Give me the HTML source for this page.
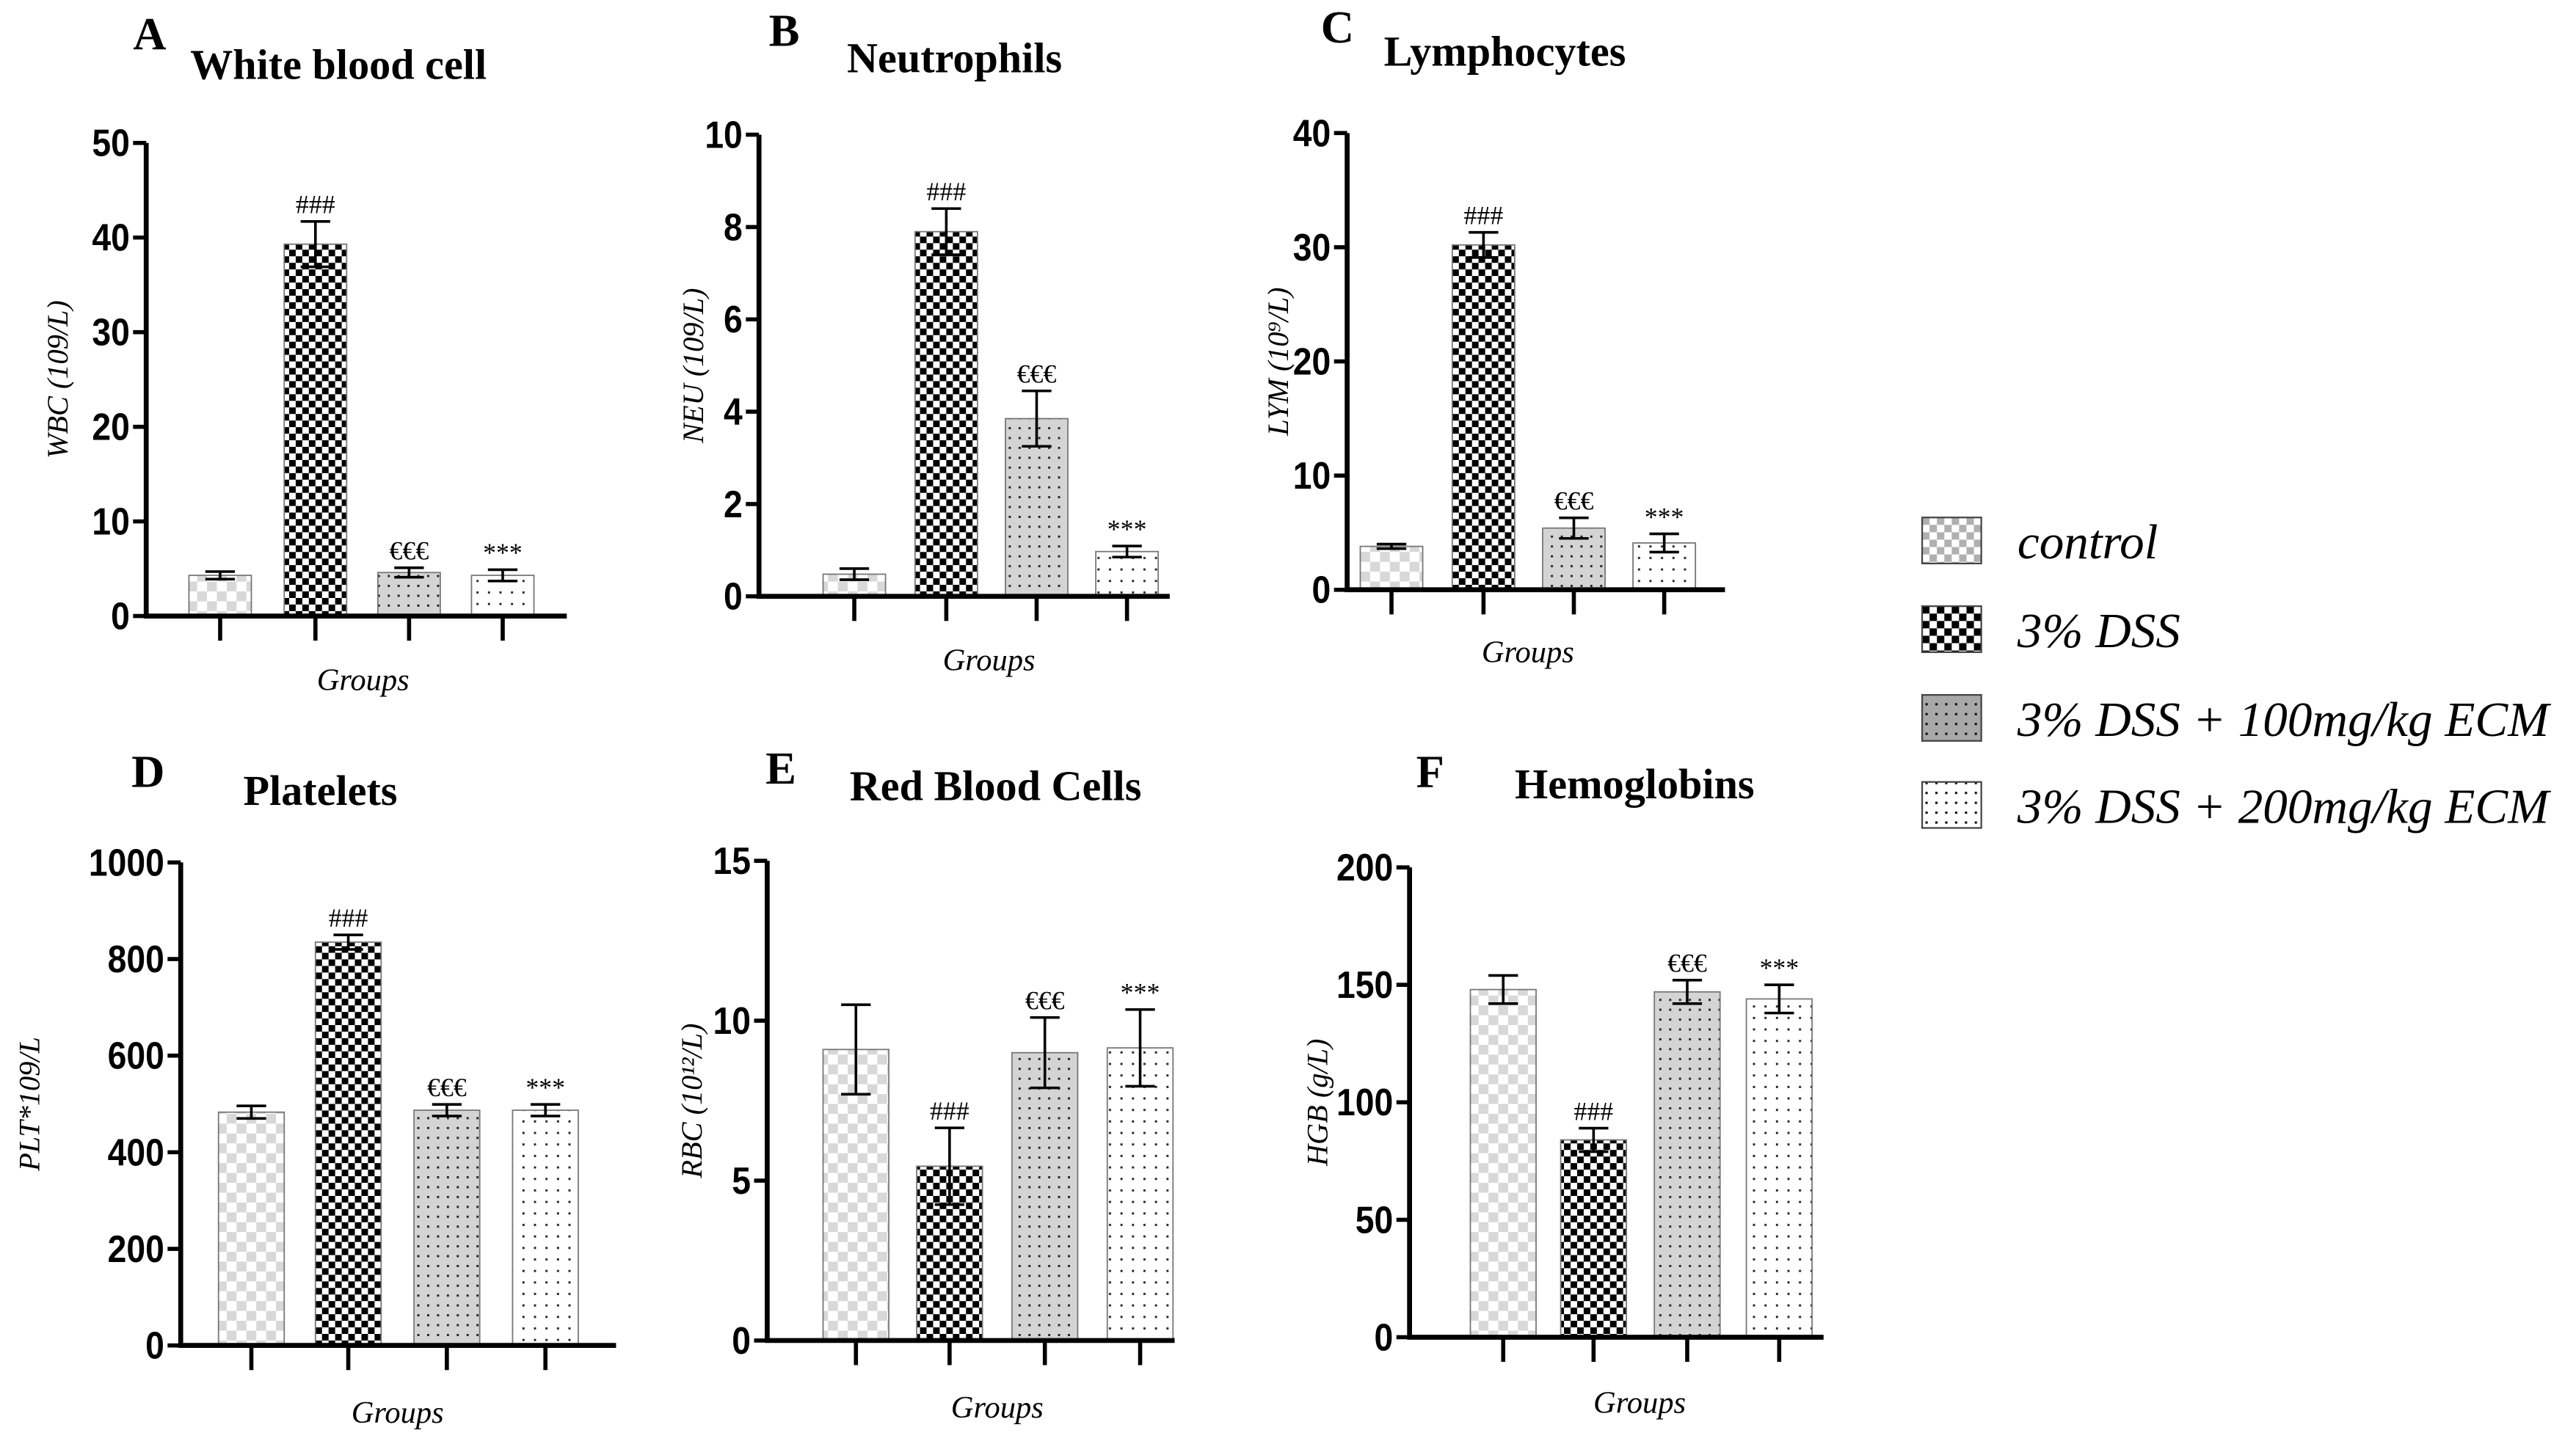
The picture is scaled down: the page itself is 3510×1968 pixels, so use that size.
<!DOCTYPE html>
<html><head><meta charset="utf-8"><style>
html,body{margin:0;padding:0;background:#fff}
svg{display:block}
.tk{font-family:"Liberation Sans",sans-serif;font-weight:bold;font-size:23px}
.ttl{font-family:"Liberation Serif",serif;font-weight:bold;font-size:26px}
.let{font-family:"Liberation Serif",serif;font-weight:bold;font-size:28px}
.yl{font-family:"Liberation Serif",serif;font-style:italic;font-size:18px}
.gx{font-family:"Liberation Serif",serif;font-style:italic;font-size:19px}
.an{font-family:"Liberation Serif",serif;font-size:16px}
.lg{font-family:"Liberation Serif",serif;font-style:italic;font-size:30px}
</style></head><body>
<svg id="fig" width="3510" height="1968" viewBox="0 0 1568 879" preserveAspectRatio="none" xmlns="http://www.w3.org/2000/svg">
<defs>
<pattern id="p0" width="12" height="12" patternUnits="userSpaceOnUse"><rect width="12" height="12" fill="#fff"/><rect width="6" height="6" fill="#d8d8d8"/><rect x="6" y="6" width="6" height="6" fill="#d8d8d8"/></pattern>
<pattern id="p1" width="8" height="8" patternUnits="userSpaceOnUse"><rect width="8" height="8" fill="#fff"/><rect width="4" height="4" fill="#000"/><rect x="4" y="4" width="4" height="4" fill="#000"/></pattern>
<pattern id="p2" width="6" height="6" patternUnits="userSpaceOnUse"><rect width="6" height="6" fill="#d4d4d4"/><rect x="2" y="2" width="1.3" height="1.3" fill="#222"/></pattern>
<pattern id="p3" width="7" height="7" patternUnits="userSpaceOnUse"><rect width="7" height="7" fill="#fff"/><rect x="3" y="3" width="1.3" height="1.3" fill="#222"/></pattern>
<pattern id="lp0" width="9" height="9" patternUnits="userSpaceOnUse"><rect width="9" height="9" fill="#fff"/><rect width="4.5" height="4.5" fill="#b0b0b0"/><rect x="4.5" y="4.5" width="4.5" height="4.5" fill="#b0b0b0"/></pattern>
<pattern id="lp1" width="9" height="9" patternUnits="userSpaceOnUse"><rect width="9" height="9" fill="#fff"/><rect width="4.5" height="4.5" fill="#000"/><rect x="4.5" y="4.5" width="4.5" height="4.5" fill="#000"/></pattern>
<pattern id="lp2" width="6" height="6" patternUnits="userSpaceOnUse"><rect width="6" height="6" fill="#a8a8a8"/><rect x="2" y="2" width="1.4" height="1.4" fill="#111"/></pattern>
<pattern id="lp3" width="6" height="6" patternUnits="userSpaceOnUse"><rect width="6" height="6" fill="#fff"/><rect x="2" y="2" width="1.4" height="1.4" fill="#111"/></pattern>
</defs>
</svg>
<script>
const groups=["control","3% DSS","3% DSS + 100mg/kg ECM","3% DSS + 200mg/kg ECM"];
const wbcMeans=[4.3,39.3,4.6,4.3];const wbcErr=[0.4,2.4,0.5,0.6];
const neuMeans=[0.48,7.9,3.85,0.97];const neuErr=[0.12,0.5,0.6,0.12];
const lymMeans=[3.8,30.2,5.4,4.1];const lymErr=[0.2,1.1,0.9,0.8];
const pltMeans=[483,835,487,487];const pltErr=[13,15,12,12];
const rbcMeans=[9.1,5.45,9.0,9.15];const rbcErr=[1.4,1.2,1.1,1.2];
const hgbMeans=[148,84,147,144];const hgbErr=[6,5,5,6];
const wbcTicks=[0,10,20,30,40,50];const neuTicks=[0,2,4,6,8,10];const lymTicks=[0,10,20,30,40];
const pltTicks=[0,200,400,600,800,1000];const rbcTicks=[0,5,10,15];const hgbTicks=[0,50,100,150,200];
const annotations=["","###","€€€","***"];

const NS="http://www.w3.org/2000/svg";
const svg=document.getElementById("fig");
function mk(tag,attrs,parent,text){const e=document.createElementNS(NS,tag);for(const k in attrs)e.setAttribute(k,attrs[k]);if(text!==undefined)e.textContent=text;(parent||svg).appendChild(e);return e;}

const panels=[
 {id:"a",letter:"A",title:"White blood cell",ylab:"WBC (109/L)",means:wbcMeans,err:wbcErr,ticks:wbcTicks,ax:89,top:87,zero:375,end:345,cx:[134,192,249,306],bw:38,lx:81,ly:30,tx:206,ty:48,ylx:41,gy:420,gx:221},
 {id:"b",letter:"B",title:"Neutrophils",ylab:"NEU (109/L)",means:neuMeans,err:neuErr,ticks:neuTicks,ax:462,top:82,zero:363,end:712,cx:[520,576,631,686],bw:38,lx:468,ly:28,tx:581,ty:44,ylx:428,gy:408,gx:602},
 {id:"c",letter:"C",title:"Lymphocytes",ylab:"LYM (10⁹/L)",means:lymMeans,err:lymErr,ticks:lymTicks,ax:820,top:81,zero:359,end:1050,cx:[847,903,958,1013],bw:38,lx:804,ly:26,tx:916,ty:40,ylx:784,gy:403,gx:930},
 {id:"d",letter:"D",title:"Platelets",ylab:"PLT*109/L",means:pltMeans,err:pltErr,ticks:pltTicks,ax:110,top:525,zero:819,end:375,cx:[153,212,272,332],bw:40,lx:80,ly:479,tx:195,ty:490,ylx:24,gy:866,gx:242},
 {id:"e",letter:"E",title:"Red Blood Cells",ylab:"RBC (10¹²/L)",means:rbcMeans,err:rbcErr,ticks:rbcTicks,ax:467,top:524,zero:816,end:715,cx:[521,578,636,694],bw:40,lx:466,ly:477,tx:606,ty:487,ylx:427,gy:863,gx:607},
 {id:"f",letter:"F",title:"Hemoglobins",ylab:"HGB (g/L)",means:hgbMeans,err:hgbErr,ticks:hgbTicks,ax:858,top:528,zero:814,end:1110,cx:[915,970,1027,1083],bw:40,lx:862,ly:479,tx:995,ty:486,ylx:808,gy:860,gx:998}
];
const fills=["url(#p0)","url(#p1)","url(#p2)","url(#p3)"];
panels.forEach(p=>{
 const g=mk("g",{});
 
 
 const max=p.ticks[p.ticks.length-1];
 const y=v=>p.zero-(v/max)*(p.zero-p.top);
 const l=mk("text",{x:p.lx,y:p.ly,class:"let"},g,p.letter);
 
 const t=mk("text",{x:p.tx,y:p.ty,class:"ttl","text-anchor":"middle"},g,p.title);
 
 p.means.forEach((m,i)=>{
  const b=mk("rect",{x:p.cx[i]-p.bw/2,y:y(m),width:p.bw,height:p.zero-y(m),fill:fills[i],stroke:"#777","stroke-width":0.8},g);
  
  const hi=y(m+p.err[i]),lo=y(m-p.err[i]);
  const e=mk("path",{d:`M${p.cx[i]},${hi}V${lo}M${p.cx[i]-9},${hi}H${p.cx[i]+9}M${p.cx[i]-9},${lo}H${p.cx[i]+9}`,stroke:"#000","stroke-width":1.6,fill:"none"},g);
  
  if(annotations[i]){const a=mk("text",{x:p.cx[i],y:hi-5,class:"an","text-anchor":"middle"},g,annotations[i]);
   }
  mk("line",{x1:p.cx[i],x2:p.cx[i],y1:p.zero,y2:p.zero+15,stroke:"#000","stroke-width":2.5},g);
 });
 const ax=mk("path",{d:`M${p.ax},${p.top}V${p.zero}H${p.end}`,stroke:"#000","stroke-width":3,fill:"none"},g);
 
 p.ticks.forEach(v=>{
  mk("line",{x1:p.ax-8,x2:p.ax,y1:y(v),y2:y(v),stroke:"#000","stroke-width":2.5},g);
  const s=String(v);
  const tl=mk("text",{x:p.ax-10,y:y(v)+8,class:"tk","text-anchor":"end",textLength:s.length*11.5,lengthAdjust:"spacingAndGlyphs"},g,s);
  
 });
 const yc=(p.top+p.zero)/2;
 const yl=mk("text",{x:p.ylx,y:yc,class:"yl","text-anchor":"middle",transform:`rotate(-90 ${p.ylx} ${yc})`},g,p.ylab);
 
 const gx=mk("text",{x:p.gx,y:p.gy,class:"gx","text-anchor":"middle"},g,"Groups");
 
});
const lgY=[330,384,438,491];
const lg=mk("g",{});

groups.forEach((n,i)=>{
 const r=mk("rect",{x:1170,y:lgY[i]-15,width:36,height:28,fill:"url(#lp"+i+")",stroke:"#444","stroke-width":1},lg);
 
 const t=mk("text",{x:1228,y:lgY[i]+10,class:"lg"},lg,n);
 
});
</script>
</body></html>
